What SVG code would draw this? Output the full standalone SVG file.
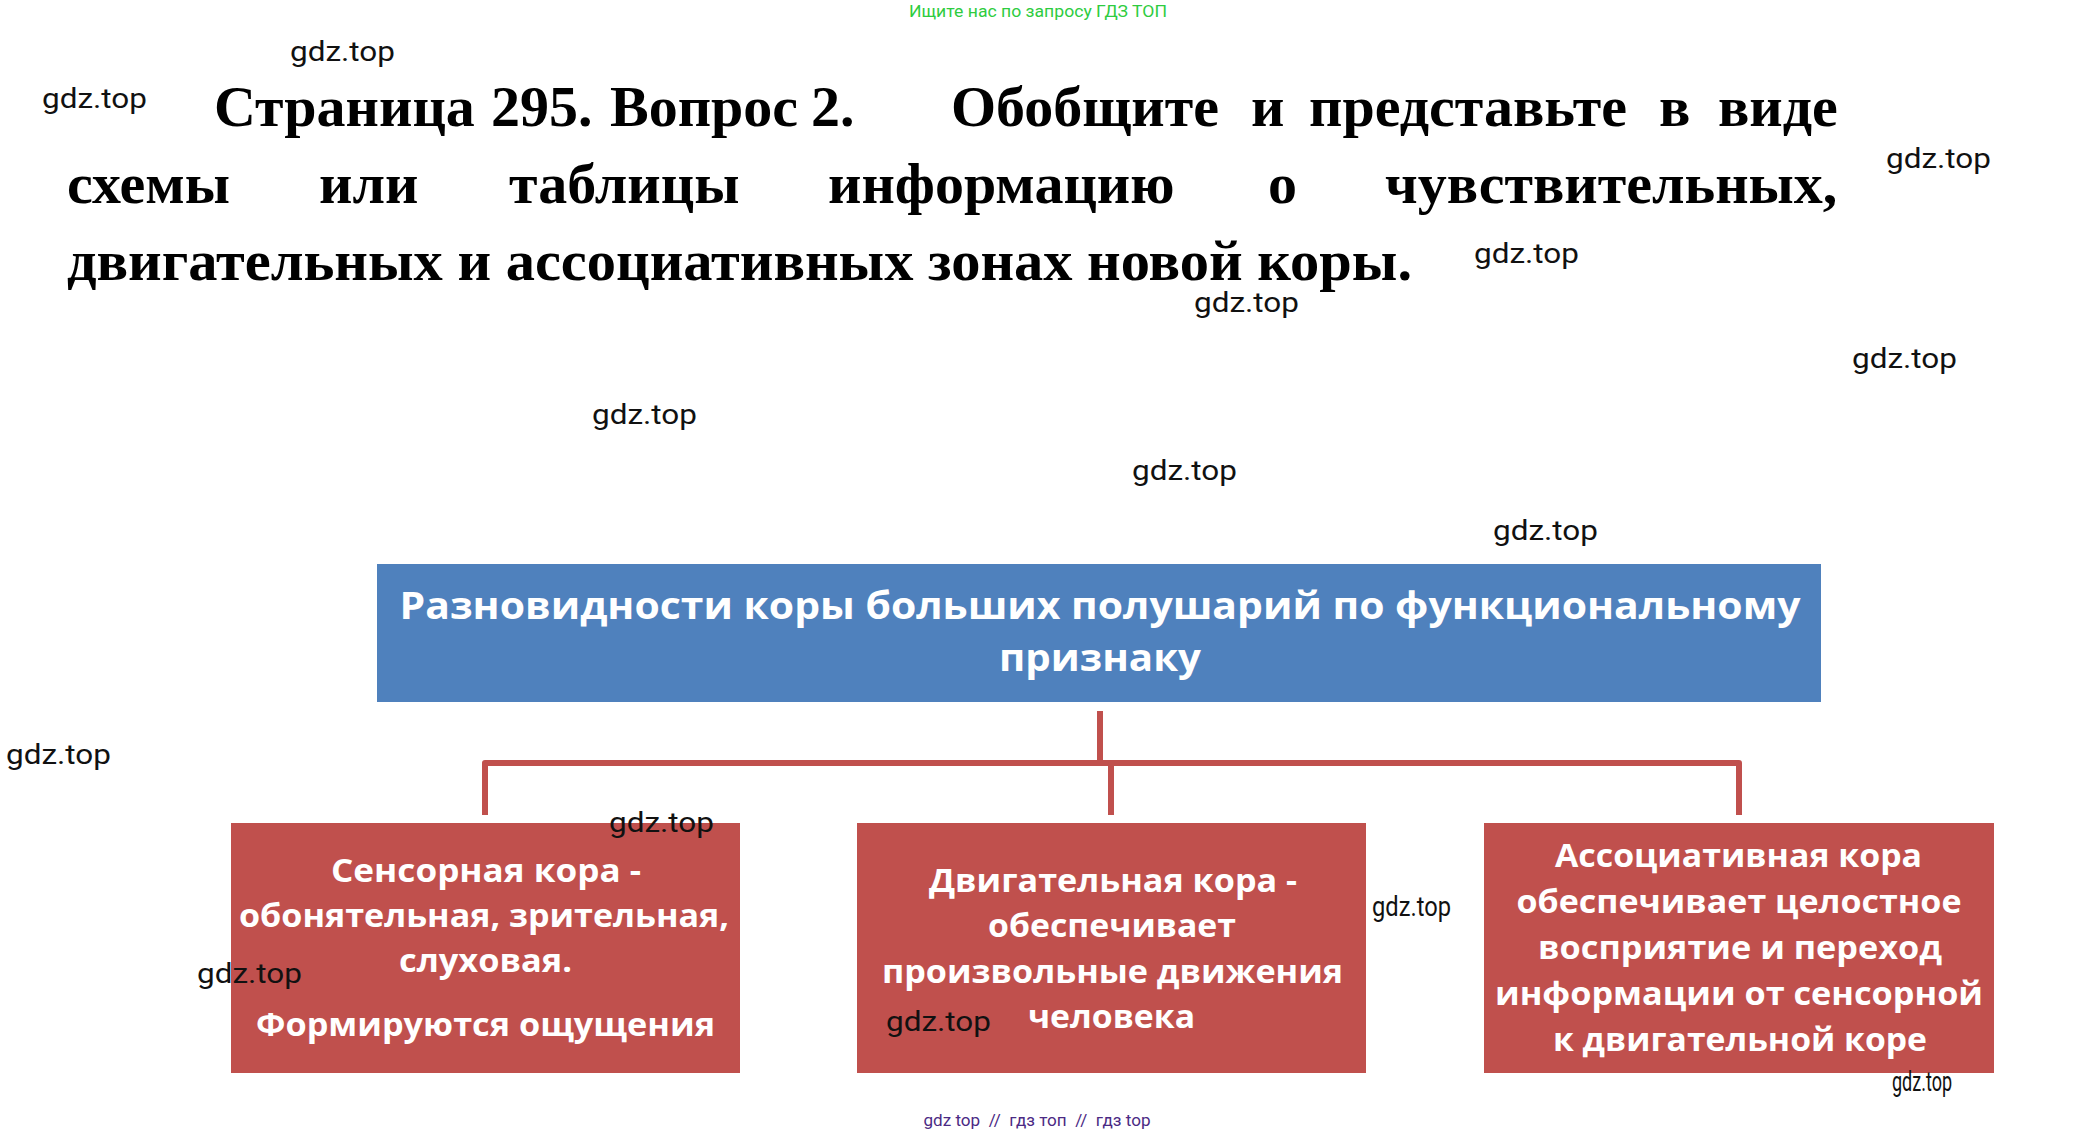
<svg xmlns="http://www.w3.org/2000/svg" width="2077" height="1136" viewBox="0 0 2077 1136">
<style>
.title{font-family:"Liberation Serif","Times New Roman",serif;font-weight:bold;font-size:58px;fill:#000}
.wm{font-family:Roboto,"Liberation Sans",sans-serif;font-size:28px;fill:#111}
.bt{font-family:"Open Sans","Noto Sans",sans-serif;font-weight:bold;fill:#fff;text-anchor:middle}
.head{font-size:37px}
.box{font-size:32px}
.conn{fill:none;stroke:#C0504D;stroke-width:6;stroke-linejoin:round}
</style>
<rect width="2077" height="1136" fill="#fff"/>
<text x="1038" y="17" text-anchor="middle" font-family="Roboto,'Liberation Sans',sans-serif" font-size="16" fill="#2ECC40" textLength="258" lengthAdjust="spacingAndGlyphs">Ищите нас по запросу ГДЗ ТОП</text>
<g id="title">
<text class="title" y="126"><tspan x="214">Страница</tspan><tspan x="491">295.</tspan><tspan x="610">Вопрос</tspan><tspan x="811">2.</tspan><tspan x="951">Обобщите</tspan><tspan x="1251">и</tspan><tspan x="1309">представьте</tspan><tspan x="1659">в</tspan><tspan x="1718">виде</tspan></text>
<text class="title" y="203"><tspan x="67">схемы</tspan><tspan x="319">или</tspan><tspan x="509">таблицы</tspan><tspan x="828">информацию</tspan><tspan x="1268">о</tspan><tspan x="1385">чувствительных,</tspan></text>
<text class="title" x="67" y="280" textLength="1345" lengthAdjust="spacingAndGlyphs">двигательных и ассоциативных зонах новой коры.</text>
</g>
<g id="connectors">
<path class="conn" d="M1100,711 V763"/>
<path class="conn" d="M485,815 V763 H1739 V815"/>
<path class="conn" d="M1111,763 V815"/>
</g>
<g id="root">
<rect x="377" y="564" width="1444" height="138" fill="#4F81BD"/>
<text class="bt head" x="1100" y="619" textLength="1401" lengthAdjust="spacingAndGlyphs">Разновидности коры больших полушарий по функциональному</text>
<text class="bt head" x="1100" y="671" textLength="202" lengthAdjust="spacingAndGlyphs">признаку</text>
</g>
<g id="sensory">
<rect x="231" y="823" width="509" height="250" fill="#C0504D"/>
<text class="bt box" x="486" y="882" textLength="310" lengthAdjust="spacingAndGlyphs">Сенсорная кора -</text>
<text class="bt box" x="484" y="927" textLength="490" lengthAdjust="spacingAndGlyphs">обонятельная, зрительная,</text>
<text class="bt box" x="485.5" y="972" textLength="173" lengthAdjust="spacingAndGlyphs">слуховая.</text>
<text class="bt box" x="485.5" y="1036" textLength="459" lengthAdjust="spacingAndGlyphs">Формируются ощущения</text>
</g>
<g id="motor">
<rect x="857" y="823" width="509" height="250" fill="#C0504D"/>
<text class="bt box" x="1113" y="892" textLength="368" lengthAdjust="spacingAndGlyphs">Двигательная кора -</text>
<text class="bt box" x="1112" y="937" textLength="248" lengthAdjust="spacingAndGlyphs">обеспечивает</text>
<text class="bt box" x="1112.5" y="983" textLength="461" lengthAdjust="spacingAndGlyphs">произвольные движения</text>
<text class="bt box" x="1111.5" y="1028" textLength="167" lengthAdjust="spacingAndGlyphs">человека</text>
</g>
<g id="associative">
<rect x="1484" y="823" width="510" height="250" fill="#C0504D"/>
<text class="bt box" x="1738.5" y="867" textLength="367" lengthAdjust="spacingAndGlyphs">Ассоциативная кора</text>
<text class="bt box" x="1739" y="913" textLength="445" lengthAdjust="spacingAndGlyphs">обеспечивает целостное</text>
<text class="bt box" x="1740" y="959" textLength="404" lengthAdjust="spacingAndGlyphs">восприятие и переход</text>
<text class="bt box" x="1739" y="1005" textLength="488" lengthAdjust="spacingAndGlyphs">информации от сенсорной</text>
<text class="bt box" x="1740" y="1051" textLength="374" lengthAdjust="spacingAndGlyphs">к двигательной коре</text>
</g>
<g id="watermarks">
<text class="wm" x="290" y="61" textLength="105" lengthAdjust="spacingAndGlyphs">gdz.top</text>
<text class="wm" x="42" y="108" textLength="105" lengthAdjust="spacingAndGlyphs">gdz.top</text>
<text class="wm" x="1886" y="168" textLength="105" lengthAdjust="spacingAndGlyphs">gdz.top</text>
<text class="wm" x="1474" y="263" textLength="105" lengthAdjust="spacingAndGlyphs">gdz.top</text>
<text class="wm" x="1194" y="312" textLength="105" lengthAdjust="spacingAndGlyphs">gdz.top</text>
<text class="wm" x="1852" y="368" textLength="105" lengthAdjust="spacingAndGlyphs">gdz.top</text>
<text class="wm" x="592" y="424" textLength="105" lengthAdjust="spacingAndGlyphs">gdz.top</text>
<text class="wm" x="1132" y="480" textLength="105" lengthAdjust="spacingAndGlyphs">gdz.top</text>
<text class="wm" x="1493" y="540" textLength="105" lengthAdjust="spacingAndGlyphs">gdz.top</text>
<text class="wm" x="6" y="764" textLength="105" lengthAdjust="spacingAndGlyphs">gdz.top</text>
<text class="wm" x="609" y="832" textLength="105" lengthAdjust="spacingAndGlyphs">gdz.top</text>
<text class="wm" x="197" y="983" textLength="105" lengthAdjust="spacingAndGlyphs">gdz.top</text>
<text class="wm" x="886" y="1031" textLength="105" lengthAdjust="spacingAndGlyphs">gdz.top</text>
<text class="wm" x="1372" y="916" font-size="23" textLength="79" lengthAdjust="spacingAndGlyphs">gdz.top</text>
<text class="wm" x="1892" y="1091" font-size="18" textLength="60" lengthAdjust="spacingAndGlyphs">gdz.top</text>
</g>
<text x="1037" y="1126" text-anchor="middle" font-family="Roboto,'Liberation Sans',sans-serif" font-size="16" fill="#4B2A84" textLength="227" lengthAdjust="spacingAndGlyphs" xml:space="preserve">gdz top  //  гдз топ  //  гдз top</text>
</svg>
